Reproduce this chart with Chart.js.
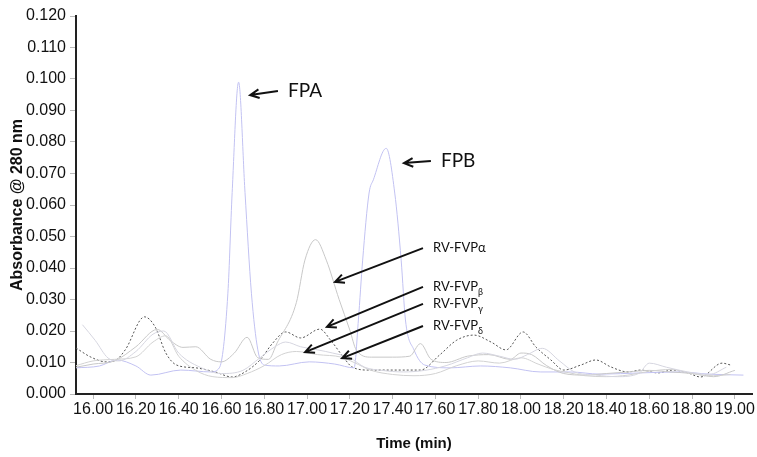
<!DOCTYPE html>
<html>
<head>
<meta charset="utf-8">
<script src="https://cdn.jsdelivr.net/npm/chart.js@4/dist/chart.umd.min.js"></script>
<style>
  body { margin: 0; background: #fff; }
  #wrap { width: 757px; height: 457px; }
</style>
</head>
<body>
<div id="wrap"><canvas id="chart" width="757" height="457"></canvas></div>
<script>
// time (min) / absorbance readings for each trace
const fpTimes = [15.92, 16.03, 16.11, 16.20, 16.27, 16.41, 16.55, 16.59, 16.63, 16.65, 16.68, 16.71, 16.74, 16.77, 16.80, 16.87, 17.01, 17.13, 17.22, 17.24, 17.26, 17.29, 17.31, 17.37, 17.41, 17.44, 17.46, 17.50, 17.55, 17.67, 17.81, 17.95, 18.09, 18.23, 18.37, 18.56, 18.74, 18.88, 19.04];
const fpValues = [0.0083, 0.0089, 0.0108, 0.0089, 0.0060, 0.0076, 0.0070, 0.0083, 0.032, 0.064, 0.099, 0.064, 0.032, 0.014, 0.0092, 0.0089, 0.0102, 0.0095, 0.0083, 0.0235, 0.0425, 0.0638, 0.068, 0.078, 0.0638, 0.0425, 0.0235, 0.014, 0.0092, 0.0083, 0.0089, 0.0083, 0.007, 0.007, 0.0063, 0.0067, 0.007, 0.0063, 0.006];

const betaTimes = [15.92, 15.99, 16.06, 16.10, 16.15, 16.24, 16.29, 16.34, 16.39, 16.48, 16.57, 16.65, 16.71, 16.78, 16.84, 16.90, 16.97, 17.06, 17.11, 17.17, 17.21, 17.29, 17.53, 17.62, 17.70, 17.78, 17.86, 17.93, 18.01, 18.07, 18.14, 18.20, 18.28, 18.35, 18.42, 18.50, 18.56, 18.64, 18.71, 18.78, 18.84, 18.94, 18.98];
const betaValues = [0.0146, 0.0117, 0.0102, 0.0105, 0.014, 0.0245, 0.0213, 0.013, 0.0092, 0.0083, 0.007, 0.0054, 0.007, 0.0108, 0.0162, 0.0197, 0.0178, 0.0206, 0.0171, 0.0117, 0.0086, 0.0076, 0.0076, 0.0124, 0.0171, 0.0187, 0.0165, 0.014, 0.0197, 0.0149, 0.0108, 0.0076, 0.0092, 0.0108, 0.0086, 0.007, 0.0076, 0.0067, 0.0076, 0.0067, 0.0054, 0.0098, 0.0092];

const alphaTimes = [15.92, 16.00, 16.10, 16.20, 16.30, 16.36, 16.42, 16.48, 16.55, 16.60, 16.66, 16.72, 16.77, 16.82, 16.86, 16.95, 16.99, 17.04, 17.09, 17.15, 17.20, 17.23, 17.30, 17.40, 17.48, 17.53, 17.58, 17.65, 17.75, 17.85, 17.95, 18.00, 18.05, 18.12, 18.20, 18.30, 18.40, 18.50, 18.60, 18.70, 18.80, 18.90, 19.00];
const alphaValues = [0.0085, 0.0095, 0.0105, 0.015, 0.0205, 0.017, 0.0148, 0.015, 0.011, 0.0102, 0.013, 0.018, 0.0115, 0.011, 0.0162, 0.029, 0.0425, 0.049, 0.0425, 0.030, 0.0203, 0.014, 0.0117, 0.0117, 0.012, 0.016, 0.011, 0.010, 0.012, 0.0125, 0.011, 0.013, 0.0125, 0.009, 0.0065, 0.006, 0.0065, 0.007, 0.0075, 0.007, 0.0065, 0.0055, 0.0075];

const gammaTimes = [15.95, 16.01, 16.07, 16.12, 16.20, 16.28, 16.33, 16.40, 16.50, 16.60, 16.70, 16.78, 16.85, 16.90, 16.97, 17.05, 17.12, 17.20, 17.27, 17.35, 17.45, 17.55, 17.65, 17.75, 17.82, 17.90, 17.97, 18.03, 18.10, 18.18, 18.25, 18.35, 18.45, 18.55, 18.60, 18.68, 18.78, 18.88, 18.96];
const gammaValues = [0.022, 0.017, 0.0114, 0.0105, 0.0135, 0.019, 0.020, 0.013, 0.0085, 0.0065, 0.0075, 0.0115, 0.015, 0.0165, 0.015, 0.014, 0.013, 0.0115, 0.0085, 0.0075, 0.007, 0.0075, 0.009, 0.0115, 0.013, 0.012, 0.011, 0.0125, 0.0145, 0.0105, 0.007, 0.006, 0.0055, 0.0065, 0.0098, 0.0085, 0.007, 0.0062, 0.0085];

const deltaTimes = [15.92, 16.00, 16.10, 16.20, 16.28, 16.34, 16.40, 16.48, 16.56, 16.65, 16.72, 16.80, 16.88, 16.95, 17.05, 17.16, 17.22, 17.30, 17.40, 17.50, 17.60, 17.70, 17.80, 17.90, 18.00, 18.08, 18.15, 18.22, 18.30, 18.40, 18.50, 18.60, 18.70, 18.80, 18.90, 18.98];
const deltaValues = [0.009, 0.0105, 0.011, 0.0118, 0.0165, 0.0185, 0.012, 0.0075, 0.0055, 0.0052, 0.0065, 0.009, 0.0125, 0.0135, 0.0125, 0.0117, 0.010, 0.0075, 0.0062, 0.0058, 0.0065, 0.009, 0.0105, 0.0098, 0.0115, 0.0095, 0.0078, 0.0068, 0.0058, 0.0055, 0.006, 0.0072, 0.0078, 0.0065, 0.0058, 0.0062];

const xTickValues = [16.0, 16.2, 16.4, 16.6, 16.8, 17.0, 17.2, 17.4, 17.6, 17.8, 18.0, 18.2, 18.4, 18.6, 18.8, 19.0];

// arrow callouts, anchored in data space
const notes = [
  { text: 'FPA', sub: '', tip: [16.734, 0.0949], tail: [16.864, 0.0962], font: 19 },
  { text: 'FPB', sub: '', tip: [17.453, 0.0733], tail: [17.579, 0.0740], font: 19 },
  { text: 'RV-FVP\u03b1', sub: '', tip: [17.131, 0.0356], tail: [17.542, 0.0463], font: 13 },
  { text: 'RV-FVP', sub: '\u03b2', tip: [17.093, 0.0213], tail: [17.542, 0.0340], font: 13 },
  { text: 'RV-FVP', sub: '\u03b3', tip: [16.991, 0.0133], tail: [17.542, 0.0286], font: 13 },
  { text: 'RV-FVP', sub: '\u03b4', tip: [17.164, 0.0114], tail: [17.542, 0.0216], font: 13 }
];

const pts = (ts, vs) => ts.map((t, i) => ({ x: t, y: vs[i] }));

const calloutPlugin = {
  id: 'callouts',
  afterDatasetsDraw(chart) {
    const ctx = chart.ctx;
    const xs = chart.scales.x, ys = chart.scales.y;
    ctx.save();
    ctx.strokeStyle = '#111';
    ctx.fillStyle = '#111';
    ctx.lineWidth = 2;
    notes.forEach((n) => {
      const x1 = xs.getPixelForValue(n.tail[0]), y1 = ys.getPixelForValue(n.tail[1]);
      const x2 = xs.getPixelForValue(n.tip[0]), y2 = ys.getPixelForValue(n.tip[1]);
      ctx.beginPath();
      ctx.moveTo(x1, y1);
      ctx.lineTo(x2, y2);
      const a = Math.atan2(y2 - y1, x2 - x1);
      const len = 10;
      ctx.moveTo(x2 - len * Math.cos(a - 0.45), y2 - len * Math.sin(a - 0.45));
      ctx.lineTo(x2, y2);
      ctx.lineTo(x2 - len * Math.cos(a + 0.45), y2 - len * Math.sin(a + 0.45));
      ctx.stroke();
      ctx.font = n.font + 'px Lato, "Open Sans", sans-serif';
      ctx.textBaseline = 'middle';
      ctx.textAlign = 'left';
      const tx = x1 + 10;
      ctx.fillText(n.text, tx, y1);
      if (n.sub) {
        const w = ctx.measureText(n.text).width;
        ctx.font = '9px Lato, "Open Sans", sans-serif';
        ctx.fillText(n.sub, tx + w, y1 + 5);
      }
    });
    ctx.restore();
  }
};

const ctx = document.getElementById('chart').getContext('2d');
new Chart(ctx, {
  type: 'line',
  data: {
    datasets: [
      { label: 'RV-FVP\u03b3', data: pts(gammaTimes, gammaValues), borderColor: '#d6d6e0', borderWidth: 1 },
      { label: 'RV-FVP\u03b4', data: pts(deltaTimes, deltaValues), borderColor: '#d2d2d2', borderWidth: 1 },
      { label: 'RV-FVP\u03b1', data: pts(alphaTimes, alphaValues), borderColor: '#c8c8c8', borderWidth: 1 },
      { label: 'FP', data: pts(fpTimes, fpValues), borderColor: '#c2c2f2', borderWidth: 1 },
      { label: 'RV-FVP\u03b2', data: pts(betaTimes, betaValues), borderColor: '#555555', borderWidth: 1, borderDash: [2, 2] }
    ]
  },
  options: {
    responsive: false,
    animation: false,
    elements: { point: { radius: 0 }, line: { cubicInterpolationMode: 'monotone' } },
    layout: { padding: { top: 16, right: 5, left: 0, bottom: 0 } },
    plugins: { legend: { display: false }, tooltip: { enabled: false } },
    scales: {
      x: {
        type: 'linear',
        min: 15.92,
        max: 19.08,
        afterBuildTicks: (scale) => { scale.ticks = xTickValues.map((v) => ({ value: v })); },
        afterFit: (scale) => { scale.height = 63; },
        border: { color: '#222', width: 2 },
        grid: { drawOnChartArea: false, tickLength: 5, color: '#bbb' },
        ticks: {
          autoSkip: false, maxRotation: 0, padding: 1,
          color: '#111',
          font: { family: '"Liberation Sans", Arial, sans-serif', size: 16 },
          callback: (v) => Number(v).toFixed(2)
        },
        title: {
          display: true, text: 'Time (min)', color: '#111',
          font: { family: '"Liberation Sans", Arial, sans-serif', size: 15, weight: 'bold' },
          padding: { top: 10 }
        }
      },
      y: {
        min: 0,
        max: 0.12,
        afterFit: (scale) => { scale.width = 76; },
        border: { color: '#222', width: 2 },
        grid: { drawOnChartArea: false, tickLength: 6, color: '#bbb' },
        ticks: {
          stepSize: 0.01, padding: 4,
          color: '#111',
          font: { family: '"Liberation Sans", Arial, sans-serif', size: 16 },
          callback: (v) => Number(v).toFixed(3)
        },
        title: {
          display: true, text: 'Absorbance @ 280 nm', color: '#111',
          font: { family: '"Liberation Sans", Arial, sans-serif', size: 16, weight: 'bold' },
          padding: { top: 8, bottom: 0 }
        }
      }
    }
  },
  plugins: [calloutPlugin]
});
</script>
</body>
</html>
